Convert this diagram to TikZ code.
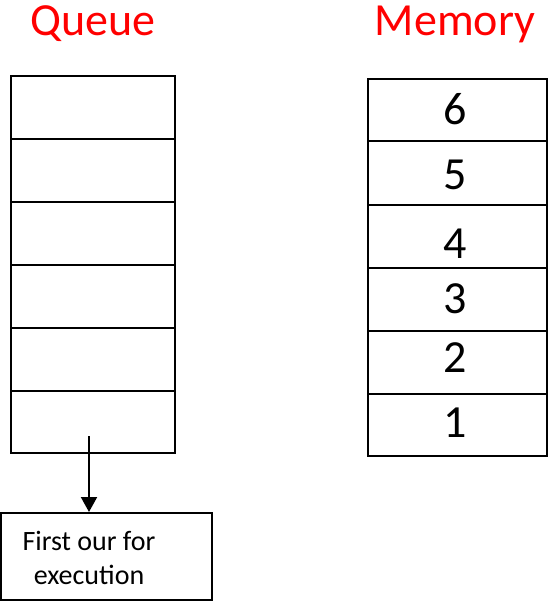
\documentclass[tikz,border=0pt]{standalone}
\usepackage{fontspec}
\setmainfont{Carlito}
\usetikzlibrary{arrows.meta}
\begin{document}
\begin{tikzpicture}[x=1pt,y=-1pt,
  cell/.style={draw=black,line width=2pt,inner sep=0pt,outer sep=0pt},
  title/.style={text=red,font=\fontsize{46}{55}\selectfont,inner sep=0pt,anchor=base},
  digit/.style={font=\fontsize{46}{55}\selectfont,inner sep=0pt},
  outbox/.style={draw=black,line width=2pt,inner sep=0pt},
  outtext/.style={align=center,inner sep=0pt,font=\fontsize{28}{33.5}\selectfont},
  conn/.style={line width=2pt,-{Triangle[length=15pt,width=16pt]}}]
\useasboundingbox (0,0) rectangle (557,602);
% titles
\node[title] (tq) at (93,36) {Queue};
\node[title] (tm) at (455,36) {Memory};
% queue cells
\draw[cell] (11,76) rectangle (175,453);
\foreach \y in {139,202,265,328,391} {\draw[line width=2pt] (11,\y) -- (175,\y);}
% memory cells
\draw[cell] (368,79) rectangle (547,456);
\foreach \y in {141,205,268,331,394} {\draw[line width=2pt] (368,\y) -- (547,\y);}
\node[digit] (m6) at (455,109) {6};
\node[digit] (m5) at (455,175) {5};
\node[digit] (m4) at (455,244) {4};
\node[digit] (m3) at (455,299) {3};
\node[digit] (m2) at (455,358) {2};
\node[digit] (m1) at (455,423) {1};
% output box
\node[outbox,minimum width=211pt,minimum height=87pt] (out) at (106.5,556.5) {};
\node[outtext] (outlabel) at (89,558) {First our for\\execution};
\coordinate (start) at (89,436);
\draw[conn] (start) -- (start |- out.north);
\end{tikzpicture}
\end{document}
